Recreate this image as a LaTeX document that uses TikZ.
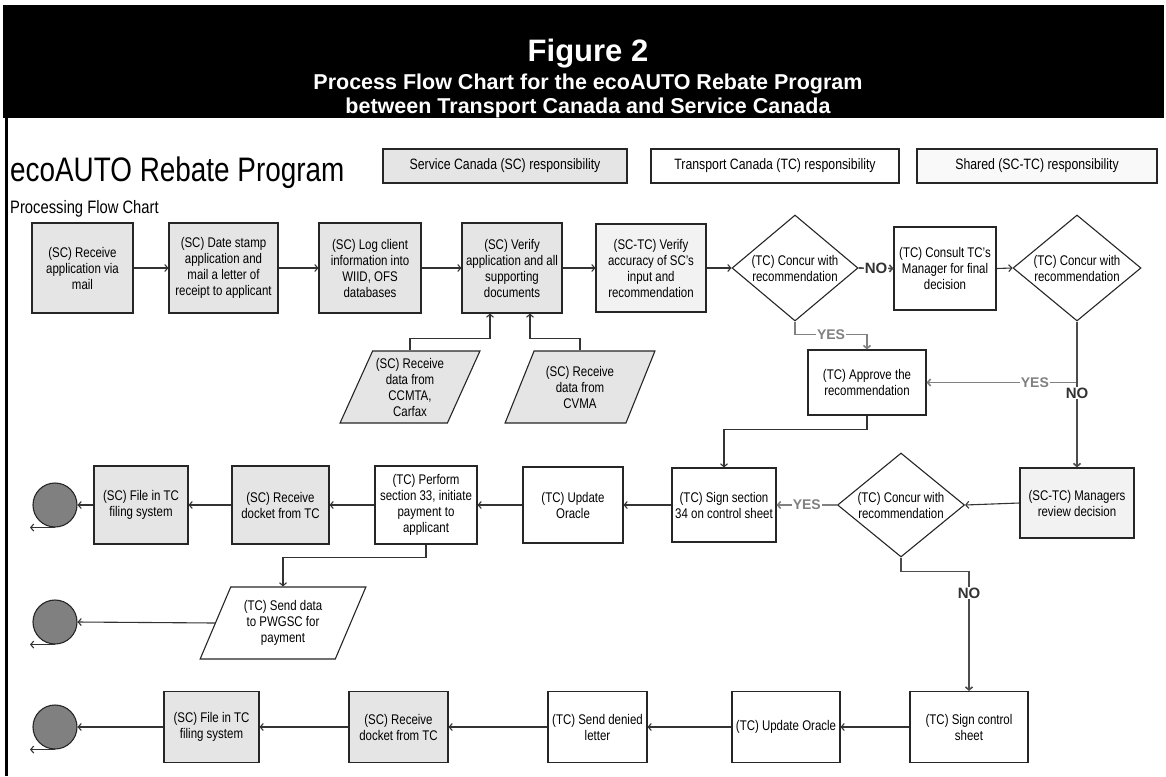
\documentclass[tikz,border=0pt]{standalone}
\usepackage{fontspec}
\setmainfont{Liberation Sans}
\newfontfamily\narrowfont{Liberation Sans}[FakeStretch=0.82]
\usetikzlibrary{arrows.meta,shapes.geometric,calc}
\definecolor{scgray}{gray}{0.9}
\definecolor{shgray}{gray}{0.95}
\definecolor{endgray}{gray}{0.5}
\tikzset{>={Straight Barb[length=3pt,width=7pt]},
	box/.style={rectangle,draw=black!85,line width=1.1pt,align=center,inner sep=1pt,font=\narrowfont\fontsize{14}{16}\selectfont},
	scbox/.style={box,fill=scgray},
	tcbox/.style={box,fill=white},
	shbox/.style={box,fill=shgray},
	decide/.style={diamond,aspect=1.2,draw=black!85,line width=1.1pt,fill=white,align=center,inner sep=0pt,font=\narrowfont\fontsize{14}{16}\selectfont},
	datain/.style={trapezium,trapezium left angle=63,trapezium right angle=117,trapezium stretches=true,draw=black!85,line width=1.1pt,align=center,inner sep=0pt,font=\narrowfont\fontsize{14}{16}\selectfont},
	endpoint/.style={circle,draw=black!85,line width=1.1pt,fill=endgray,minimum size=44pt,inner sep=0pt},
	keybox/.style={rectangle,draw=black!85,line width=1.1pt,minimum height=34pt,font=\narrowfont\fontsize{15}{18}\selectfont},
	flow/.style={->,line width=1.1pt,draw=black!80},
	yesflow/.style={->,line width=1.6pt,draw=black!50},
	noflow/.style={->,line width=1.6pt,draw=black!70},
	yeslbl/.style={fill=white,inner sep=1pt,text=black!50,font=\bfseries\fontsize{14}{16}\selectfont},
	nolbl/.style={fill=white,inner sep=1pt,text=black!80,font=\bfseries\fontsize{15}{16}\selectfont}}

\begin{document}
\begin{tikzpicture}[x=1pt,y=-1pt]
		\useasboundingbox (0,0) rectangle (1166,776);
		% heading
		\fill[black] (3,5) rectangle (1164,118);
		\draw[line width=3pt] (6,118) -- (6,776);
		\node (hdrA) at (588,61) [anchor=base,text=white,font=\bfseries\fontsize{31}{33}\selectfont] {Figure 2};
		\node (hdrB) at (588,89) [anchor=base,text=white,font=\bfseries\fontsize{21.5}{24}\selectfont] {Process Flow Chart for the ecoAUTO Rebate Program};
		\node (hdrC) at (588,113) [anchor=base,text=white,font=\bfseries\fontsize{21.5}{24}\selectfont] {between Transport Canada and Service Canada};
		\node (ttl) at (10,181) [anchor=base west,inner sep=0pt,font=\narrowfont\fontsize{34}{40}\selectfont] {ecoAUTO Rebate Program};
		\node (subttl) at (10,213) [anchor=base west,inner sep=0pt,font=\narrowfont\fontsize{18}{20}\selectfont] {Processing Flow Chart};
		\node (keySC) at (505,166) [keybox,fill=scgray,minimum width=244] {Service Canada (SC) responsibility};
		\node (keyTC) at (775,166) [keybox,fill=white,minimum width=248] {Transport Canada (TC) responsibility};
		\node (keySH) at (1037,166) [keybox,fill=shgray!50,minimum width=240] {Shared (SC-TC) responsibility};
		% first row
		\node (rcv) at (82.5,268) [scbox,minimum width=101,minimum height=90] {(SC) Receive\\application via\\mail};
		\node (stamp) at (223.5,268) [scbox,minimum width=109,minimum height=90] {(SC) Date stamp\\application and\\mail a letter of\\receipt to applicant};
		\node (logc) at (370,268) [scbox,minimum width=102,minimum height=90] {(SC) Log client\\information into\\WIID, OFS\\databases};
		\node (verif) at (512,268) [scbox,minimum width=100,minimum height=90] {(SC) Verify\\application and all\\supporting\\documents};
		\node (accur) at (651,268) [shbox,minimum width=110,minimum height=88] {(SC-TC) Verify\\accuracy of SC’s\\input and\\recommendation};
		\node (conc1) at (795,268) [decide,minimum width=126,minimum height=106] {(TC) Concur with\\recommendation};
		\node (consult) at (945,268.5) [tcbox,minimum width=102,minimum height=83] {(TC) Consult TC’s\\Manager for final\\decision};
		\node (conc2) at (1077,268) [decide,minimum width=128,minimum height=106] {(TC) Concur with\\recommendation};
		\node (approve) at (867,382.5) [tcbox,minimum width=118,minimum height=65] {(TC) Approve the\\recommendation};
		\node (ccmta) at (410,387) [datain,fill=scgray,minimum width=140,minimum height=72] {(SC) Receive\\data from\\CCMTA,\\Carfax};
		\node (cvma) at (580,387) [datain,fill=scgray,minimum width=150,minimum height=72] {(SC) Receive\\data from\\CVMA};
		% second row
		\node (endA) at (55,505) [endpoint] {};
		\node (fileA) at (141,505) [scbox,minimum width=94,minimum height=78] {(SC) File in TC\\filing system};
		\node (dockA) at (280.5,505) [scbox,minimum width=97,minimum height=78] {(SC) Receive\\docket from TC};
		\node (perf) at (426,505) [tcbox,minimum width=102,minimum height=78] {(TC) Perform\\section 33, initiate\\payment to\\applicant};
		\node (updA) at (573,505) [tcbox,minimum width=100,minimum height=76] {(TC) Update\\Oracle};
		\node (signA) at (724,505) [tcbox,minimum width=104,minimum height=74] {(TC) Sign section\\34 on control sheet};
		\node (conc3) at (901,505) [decide,minimum width=127,minimum height=104] {(TC) Concur with\\recommendation};
		\node (mgr) at (1077,503) [shbox,minimum width=114,minimum height=70] {(SC-TC) Managers\\review decision};
		\node (pwgsc) at (283,623) [datain,fill=white,minimum width=166,minimum height=72] {(TC) Send data\\to PWGSC for\\payment};
		\node (endB) at (55,622) [endpoint] {};
		% third row
		\node (endC) at (55,727) [endpoint] {};
		\node (fileB) at (211.5,727) [scbox,minimum width=95,minimum height=71] {(SC) File in TC\\filing system};
		\node (dockB) at (398.5,727) [scbox,minimum width=99,minimum height=71] {(SC) Receive\\docket from TC};
		\node (deny) at (597.5,727) [tcbox,minimum width=99,minimum height=71] {(TC) Send denied\\letter};
		\node (updB) at (786,727) [tcbox,minimum width=108,minimum height=71] {(TC) Update Oracle};
		\node (signB) at (969,727) [tcbox,minimum width=118,minimum height=71] {(TC) Sign control\\sheet};
		% connectors
		\draw [flow] (rcv.east) -- (stamp.west);
		\draw [flow] (stamp.east) -- (logc.west);
		\draw [flow] (logc.east) -- (verif.west);
		\draw [flow] (verif.east) -- (accur.west);
		\draw [flow] (accur.east) -- (conc1.west);
		\draw [flow] (ccmta.north) |- ($(verif.south)+(-22,25)$) -- ($(verif.south)+(-22,0)$);
		\draw [flow] (cvma.north) |- ($(verif.south)+(18,25)$) -- ($(verif.south)+(18,0)$);
		\draw [noflow] (conc1.east) -- node[nolbl]{NO} (consult.west);
		\draw [flow] (consult.east) -- (conc2.west);
		\draw [yesflow] (conc1.south) -- ++(0,13) -| node[yeslbl,pos=0.25]{YES} (approve.north);
		\draw [yesflow] (conc2.south) |- node[yeslbl,pos=0.64]{YES} (approve.east);
		\draw [noflow] (conc2.south) -- node[nolbl,pos=0.49]{NO} (mgr.north);
		\draw [flow] (approve.south) -- ++(0,14) -| (signA.north);
		\draw [flow] (mgr.west) -- (conc3.east);
		\draw [yesflow] (conc3.west) -- node[yeslbl]{YES} (signA.east);
		\draw [flow] (signA.west) -- (updA.east);
		\draw [flow] (updA.west) -- (perf.east);
		\draw [flow] (perf.west) -- (dockA.east);
		\draw [flow] (dockA.west) -- (fileA.east);
		\draw [flow] (fileA.west) -- (endA.east);
		\draw [flow] (perf.south) -- ++(0,13) -| (pwgsc.north);
		\draw [flow] (pwgsc.west) -- (endB.east);
		\draw [noflow] (conc3.south) -- ++(0,14) -| node[nolbl,pos=0.59]{NO} (signB.north);
		\draw [flow] (signB.west) -- (updB.east);
		\draw [flow] (updB.west) -- (deny.east);
		\draw [flow] (deny.west) -- (dockB.east);
		\draw [flow] (dockB.west) -- (fileB.east);
		\draw [flow] (fileB.west) -- (endC.east);
		\draw [flow] (endA.south) -- ++(-25,0);
		\draw [flow] (endB.south) -- ++(-25,0);
		\draw [flow] (endC.south) -- ++(-25,0);
\end{tikzpicture}
\end{document}
